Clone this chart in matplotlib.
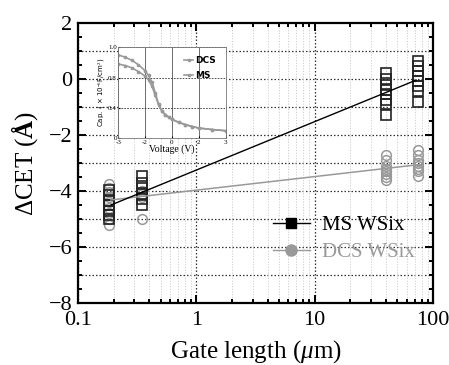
import matplotlib
matplotlib.use('Agg')
import matplotlib.pyplot as plt
from matplotlib.ticker import LogLocator, NullFormatter, FixedLocator
from matplotlib.lines import Line2D

plt.rcParams['font.family'] = ['Liberation Serif', 'DejaVu Serif']
plt.rcParams['mathtext.fontset'] = 'custom'
plt.rcParams['mathtext.rm'] = 'Liberation Serif'
plt.rcParams['mathtext.it'] = 'Liberation Serif:italic'
plt.rcParams['mathtext.bf'] = 'Liberation Serif:bold'

# Main data: delta CET vs gate length
ms_x = [0.183, 0.348, 40, 75]
ms_y = [
    [-3.95, -4.15, -4.35, -4.5, -4.7, -4.85, -5.0],
    [-3.45, -3.7, -3.9, -4.1, -4.3, -4.5],
    [0.2, 0.0, -0.2, -0.4, -0.55, -0.75, -0.9, -1.3],
    [0.65, 0.47, 0.3, 0.12, -0.06, -0.24, -0.42, -0.83],
]
dcs_x = [0.183, 0.348, 40, 75]
dcs_y = [
    [-3.75, -3.9, -4.05, -4.2, -4.4, -4.6, -4.8, -5.0, -5.2],
    [-4.0, -4.1, -4.2, -5.0],
    [-2.7, -2.9, -3.1, -3.2, -3.3, -3.4, -3.5, -3.6],
    [-2.55, -2.7, -2.9, -3.0, -3.1, -3.2, -3.3, -3.45],
]
fit_x = [0.19, 72]
fit_ms = [-4.5, -0.04]
fit_dcs = [-4.32, -3.07]

# Inset: C-V curves
volt = [-4, -3.5, -3, -2.5, -2, -1.75, -1.5, -1.25, -1, -0.75, -0.5, -0.25, 0, 0.5, 1, 1.5, 2, 3, 4]
cap_dcs = [1.10, 1.07, 1.03, 0.97, 0.89, 0.83, 0.74, 0.60, 0.45, 0.36, 0.31, 0.28, 0.25, 0.21, 0.18, 0.155, 0.135, 0.115, 0.10]
cap_ms = [0.98, 0.96, 0.93, 0.88, 0.82, 0.77, 0.69, 0.57, 0.44, 0.36, 0.31, 0.28, 0.25, 0.21, 0.18, 0.155, 0.135, 0.115, 0.10]
inset_xticks = [-4, -2, 0, 2, 4]
inset_xlabels = ['-3', '-2', '0', '2', '3']
inset_yticks = [0, 0.4, 0.8, 1.2]
inset_ylabels = ['0', '0.4', '0.8', '1.0']

gray = '#999999'
dots = (0, (1.2, 1.6))

fig = plt.figure(figsize=(4.49, 3.65), dpi=100)
ax = fig.add_axes([0.1737, 0.1699, 0.7907, 0.7671])

# axes, ticks and grid
ax.set_xscale('log')
ax.set_xlim(0.1, 100)
ax.set_ylim(-8, 2)
ax.set_yticks([-8, -6, -4, -2, 0, 2], labels=['\u22128', '\u22126', '\u22124', '\u22122', '0', '2'])
ax.yaxis.set_minor_locator(FixedLocator([v / 2 for v in range(-16, 5)]))
for yy in range(-7, 2):
    ax.axhline(yy, color='#333333', linestyle=dots, linewidth=0.9, zorder=0)
ax.xaxis.set_minor_locator(LogLocator(base=10, subs=range(2, 10)))
ax.xaxis.set_minor_formatter(NullFormatter())
ax.set_xticks([0.1, 1, 10, 100], labels=['0.1', '1', '10', '100'])
ax.grid(True, which='major', axis='x', color='#333333', linestyle=dots, linewidth=0.9)
ax.grid(True, which='minor', axis='x', color='#cccccc', linestyle=dots, linewidth=0.7)
ax.set_axisbelow(True)

for sp in ax.spines.values():
    sp.set_linewidth(1.6)
ax.tick_params(which='both', direction='in', top=True, right=True, labelsize=16, width=1.4)
ax.tick_params(which='major', length=6)
ax.tick_params(which='minor', length=3)
ax.tick_params(axis='x', which='major', pad=6)
ax.tick_params(axis='y', which='major', pad=4)

# data
for x, ys in zip(dcs_x, dcs_y):
    ax.plot([x] * len(ys), ys, linestyle='none', marker='o', markersize=7,
            markerfacecolor='none', markeredgecolor=gray, markeredgewidth=1.1)
for x, ys in zip(ms_x, ms_y):
    ax.plot([x] * len(ys), ys, linestyle='none', marker='s', markersize=6.5,
            markerfacecolor='none', markeredgecolor='#222222', markeredgewidth=1.2)
ax.plot(fit_x, fit_dcs, color=gray, linewidth=1.1)
ax.plot(fit_x, fit_ms, color='black', linewidth=1.0)

handles = [
    Line2D([], [], color='black', marker='s', markersize=7, linewidth=1.0),
    Line2D([], [], color=gray, marker='o', markersize=8, linewidth=1.0),
]
leg = ax.legend(handles, ['MS WSix', 'DCS WSix'], loc='center left', bbox_to_anchor=(0.55, 0.229),
                frameon=False, fontsize=15, handlelength=1.75, handletextpad=0.6,
                labelspacing=0.35, borderpad=0, borderaxespad=0)
leg.get_texts()[1].set_color(gray)

ax.set_xlabel(r'Gate length ($\mathit{\mu}$m)', fontsize=18, labelpad=6)
ax.set_ylabel(r'ΔCET ($\mathbf{Å}$)', fontsize=18, labelpad=6)

# inset
ins = fig.add_axes([118.3 / 449, 1 - 138.3 / 365, 107.4 / 449, 91 / 365])
ins.plot(volt, cap_dcs, color=gray, marker='o', markersize=1.6, linewidth=1.2, label='DCS')
ins.plot(volt, cap_ms, color=gray, marker='s', markersize=1.6, linewidth=1.2, label='MS')
ins.set_xlim(-4, 4)
ins.set_ylim(0, 1.2)
ins.set_xticks(inset_xticks, labels=inset_xlabels)
ins.set_yticks(inset_yticks, labels=inset_ylabels)
ins.grid(True, axis='x', color='#555555', linestyle='-', linewidth=0.6)
ins.grid(True, axis='y', color='#333333', linestyle=(0, (2, 1.5)), linewidth=0.6)
ins.tick_params(labelsize=5, direction='in', length=1.5, pad=1)
for sp in ins.spines.values():
    sp.set_linewidth(0.6)
    sp.set_color('#777777')
ins.set_xlabel('Voltage (V)', fontsize=7, labelpad=0)
ins.set_ylabel('Cap. ( × 10$^{-6}$F/cm$^{2}$)', fontsize=5, labelpad=1, family='DejaVu Sans')
ins.legend(loc='upper right', bbox_to_anchor=(0.95, 0.95), frameon=False,
           handlelength=1.0, handletextpad=0.2, labelspacing=0.6, borderpad=0,
           prop={'family': 'DejaVu Sans', 'weight': 'bold', 'size': 6.5})

fig.savefig('out.png', dpi=100)
